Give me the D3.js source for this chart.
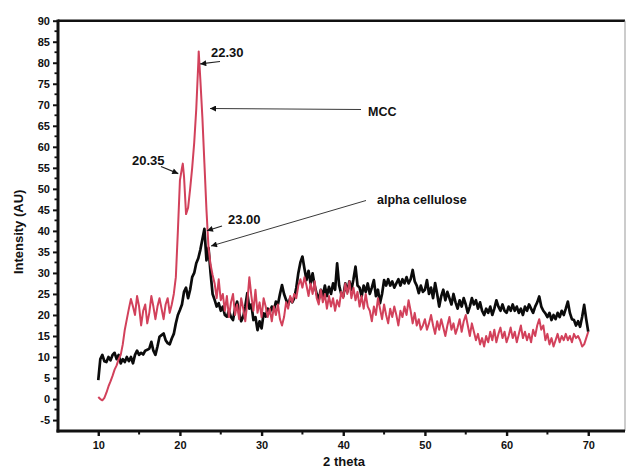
<!DOCTYPE html>
<html>
<head>
<meta charset="utf-8">
<script src="https://cdn.jsdelivr.net/npm/d3@7"></script>
<style>
  html, body { margin: 0; padding: 0; background: #fff; }
  svg { display: block; }
  text { font-family: "Liberation Sans", Arial, sans-serif; font-weight: bold; }
</style>
</head>
<body>
<svg id="chart" width="628" height="470"></svg>
<script>
// Diffraction scans, sampled every 0.25 degree of 2 theta from 10 to 70
const thetaStart = 10;
const thetaStep = 0.25;

// MCC intensity (AU)
const mccIntensity = [
  0.5, 0.0, -0.3, 0.3,      1.5, 3.0, 4.2, 5.5,       7.0, 8.0, 9.5, 10.5,
  13.0, 16.5, 19.0, 21.5,   23.8, 22.0, 20.0, 24.5,   22.0, 17.5, 21.0, 22.5,
  18.0, 20.5, 24.5, 22.0,   19.0, 22.0, 24.0, 21.5,   19.0, 22.5, 24.0, 20.5,
  22.5, 25.0, 29.0, 40.0,   52.0, 55.0, 53.0, 44.0,   45.5, 50.0, 55.0, 61.0,
  69.0, 80.0, 76.0, 67.0,   56.0, 45.0, 36.0, 32.0,   29.5, 27.5, 24.0, 28.5,
  23.5, 25.0, 21.0, 24.5,   19.5, 23.0, 25.0, 20.0,   22.5, 19.0, 24.0, 21.5,
  18.5, 23.0, 29.0, 24.5,   21.0, 26.0, 20.5, 23.0,   19.5, 24.0, 22.0, 19.5,
  21.5, 18.5, 22.0, 20.0,   22.5, 19.0, 17.5, 19.5,   23.0, 21.5, 24.5, 23.0,
  25.0, 24.0, 27.0, 28.5,   26.5, 29.0, 27.0, 24.5,   27.5, 25.0, 28.0, 24.0,
  22.5, 26.0, 23.0, 25.0,   21.5, 24.5, 22.0, 24.0,   21.0, 23.5, 22.0, 25.5,
  24.0, 27.5, 25.0, 28.0,   24.0, 26.5, 23.5, 25.5,   22.0, 24.5, 21.5, 25.0,
  22.0, 21.0, 18.5, 22.0,   20.0, 24.0, 21.5, 19.0,   22.5, 20.0, 18.0, 21.5,
  19.5, 22.0, 20.0, 17.5,   21.0, 19.5, 22.0, 20.0,   23.5, 21.0, 18.0, 20.5,
  17.5, 19.0, 16.5, 17.5,   19.0, 16.5, 18.0, 20.0,   17.5, 15.5, 18.5, 16.5,
  19.0, 17.0, 15.0, 17.5,   19.5, 16.5, 18.0, 15.5,   17.0, 19.0, 16.0, 18.5,
  20.0, 17.5, 15.0, 18.0,   16.0, 14.0, 15.5, 13.0,   14.5, 12.5, 15.0, 13.5,
  16.0, 14.0, 16.5, 13.5,   15.5, 17.0, 14.5, 16.0,   13.5, 15.0, 17.0, 14.5,
  16.0, 13.5, 15.5, 17.5,   14.5, 16.0, 14.0, 15.5,   13.5, 16.5, 15.0, 17.5,
  19.0, 16.5, 17.5, 14.0,   15.5, 13.0, 14.5, 12.5,   14.0, 15.5, 13.5, 15.0,
  14.0, 15.5, 14.0, 15.0,   13.5, 15.5, 14.5, 15.0,   14.0, 12.5, 13.0, 14.5,
  16.0
];

// alpha cellulose intensity (AU)
const alphaIntensity = [
  4.5, 9.5, 10.5, 9.0,      8.8, 10.0, 9.2, 10.5,     11.0, 9.5, 10.5, 8.5,
  9.5, 8.8, 10.0, 9.0,      10.0, 8.5, 10.5, 11.5,    10.5, 11.0, 10.6, 11.5,
  11.7, 12.0, 13.6, 11.5,   10.5, 12.5, 14.8, 15.2,   15.6, 14.0, 13.3, 13.0,
  14.4, 15.5, 18.0, 20.0,   21.2, 22.5, 25.5, 26.5,   24.0, 26.0, 29.0, 30.0,
  32.3, 33.5, 35.5, 38.0,   40.5, 33.0, 36.0, 30.0,   25.0, 23.6, 22.0, 22.8,
  21.0, 22.0, 20.0, 19.6,   21.0, 19.5, 18.8, 21.5,   23.2, 20.5, 18.5, 19.6,
  22.0, 25.2, 21.5, 22.5,   18.8, 19.5, 16.4, 18.5,   16.8, 20.4, 19.6, 21.5,
  20.5, 22.0, 21.0, 23.2,   22.5, 25.0, 27.1, 25.0,   23.6, 22.4, 24.0, 23.0,
  24.0, 26.5, 30.0, 32.5,   33.9, 31.0, 28.3, 30.5,   27.5, 29.9, 27.0, 25.0,
  23.6, 26.0, 24.5, 27.0,   24.5, 26.7, 25.0, 27.5,   26.0, 32.3, 27.0, 25.0,
  24.4, 27.5, 25.5, 28.0,   26.0, 28.5, 31.5, 27.0,   26.5, 24.4, 27.0, 25.5,
  27.5, 25.0, 26.5, 28.3,   24.5, 26.0, 22.8, 25.0,   28.3, 27.0, 28.5, 27.0,
  28.0, 26.5, 27.5, 28.5,   27.0, 28.5, 27.5, 29.0,   27.5, 28.5, 30.7, 28.0,
  27.0, 25.2, 27.0, 25.5,   26.0, 28.3, 25.0, 26.5,   24.0, 27.6, 25.0, 22.0,
  24.5, 26.0, 23.5, 25.5,   24.0, 22.5, 25.0, 23.0,   21.5, 23.5, 22.0, 24.0,
  22.5, 20.5, 22.0, 24.0,   22.5, 23.5, 21.5, 23.0,   21.0, 20.0, 21.5, 20.5,
  22.0, 20.0, 21.5, 23.5,   22.0, 21.0, 22.5, 21.0,   20.5, 22.0, 21.0, 22.5,
  21.0, 22.0, 20.5, 21.5,   20.0, 22.0, 21.0, 22.5,   21.5, 20.5, 22.0, 23.0,
  24.4, 22.0, 21.0, 20.4,   19.5, 20.5, 18.8, 20.0,   19.0, 20.5, 19.5, 21.0,
  20.0, 21.5, 23.2, 20.5,   19.0, 18.8, 17.5, 18.5,   17.2, 19.5, 22.4, 19.0,
  16.0
];

// Labelled reflections (2 theta, intensity)
const mccPeaks = [
  { theta: 20.35, intensity: 56.0 },
  { theta: 22.30, intensity: 82.7 }
];
const alphaPeaks = [
  { theta: 23.00, intensity: 40.5 }
];

const xTicks = [10, 20, 30, 40, 50, 60, 70];
const yTicks = [-5, 0, 5, 10, 15, 20, 25, 30, 35, 40, 45, 50, 55, 60, 65, 70, 75, 80, 85, 90];

const seriesNames = { mcc: "MCC", alpha: "alpha cellulose" };
const xTitle = "2 theta";
const yTitle = "Intensity (AU)";

// ---------------------------------------------------------------
function toPoints(values, peaks) {
  const pts = values.map((v, i) => ({ theta: thetaStart + i * thetaStep, intensity: v }));
  peaks.forEach(p => {
    const same = pts.find(d => Math.abs(d.theta - p.theta) < 1e-9);
    if (same) same.intensity = p.intensity;
    else pts.push({ theta: p.theta, intensity: p.intensity });
  });
  return pts.sort((a, b) => a.theta - b.theta);
}
const mccPts = toPoints(mccIntensity, mccPeaks);
const alphaPts = toPoints(alphaIntensity, alphaPeaks);

const svg = d3.select("#chart");
const plotL = 58, plotR = 625, plotT = 20.7, plotB = 431;

const x = d3.scaleLinear().domain([5.07, 74.5]).range([plotL, plotR]);
const y = d3.scaleLinear().domain([-7.6, 90]).range([plotB, plotT]);

const red = "#d2415b";
const plainInt = d => String(d);   // hyphen-minus, as on the printed axis

// Frame: top and right borders
svg.append("line").attr("x1", plotL).attr("x2", plotR).attr("y1", plotT).attr("y2", plotT)
  .attr("stroke", "#111").attr("stroke-width", 2.6);
svg.append("line").attr("x1", plotR).attr("x2", plotR).attr("y1", plotT).attr("y2", plotB)
  .attr("stroke", "#999").attr("stroke-width", 1);

// Curves
const line = d3.line().x(d => x(d.theta)).y(d => y(d.intensity));
svg.append("path").datum(alphaPts).attr("d", line)
  .attr("fill", "none").attr("stroke", "#0b0b0b").attr("stroke-width", 2.7)
  .attr("stroke-linejoin", "round");
svg.append("path").datum(mccPts).attr("d", line)
  .attr("fill", "none").attr("stroke", red).attr("stroke-width", 2.0)
  .attr("stroke-linejoin", "round");

// Y axis
const yAxis = d3.axisLeft(y).tickValues(yTicks).tickSize(5).tickPadding(3).tickFormat(plainInt);
const yMinor = d3.range(-5, 90, 2.5).filter(v => v % 5 !== 0);
const gy = svg.append("g").attr("transform", `translate(${plotL},0)`);
gy.call(yAxis);
gy.select(".domain").remove();
gy.selectAll(".tick line").attr("stroke", "#111").attr("stroke-width", 2);
gy.selectAll(".tick text").attr("font-size", 11).attr("fill", "#111")
  .style("font-family", "'Liberation Sans', Arial, sans-serif").style("font-weight", "bold");
gy.selectAll(".minor").data(yMinor).enter().append("line")
  .attr("x1", -3.5).attr("x2", 0).attr("y1", d => y(d)).attr("y2", d => y(d))
  .attr("stroke", "#111").attr("stroke-width", 1.8);
svg.append("line").attr("x1", plotL).attr("x2", plotL).attr("y1", plotT - 1.3).attr("y2", plotB + 1.5)
  .attr("stroke", "#111").attr("stroke-width", 3);

// X axis
const xAxis = d3.axisBottom(x).tickValues(xTicks).tickSize(5).tickPadding(5).tickFormat(plainInt);
const xMinor = [15, 25, 35, 45, 55, 65];
const gx = svg.append("g").attr("transform", `translate(0,${plotB})`);
gx.call(xAxis);
gx.select(".domain").remove();
gx.selectAll(".tick line").attr("stroke", "#111").attr("stroke-width", 2.4);
gx.selectAll(".tick text").attr("font-size", 11).attr("fill", "#111")
  .style("font-family", "'Liberation Sans', Arial, sans-serif").style("font-weight", "bold");
gx.selectAll(".minor").data(xMinor).enter().append("line")
  .attr("x1", d => x(d)).attr("x2", d => x(d)).attr("y1", 0).attr("y2", 3.5)
  .attr("stroke", "#111").attr("stroke-width", 2);
svg.append("line").attr("x1", plotL - 1.5).attr("x2", plotR).attr("y1", plotB).attr("y2", plotB)
  .attr("stroke", "#111").attr("stroke-width", 3);

// Axis titles
svg.append("text").attr("x", x(40.1)).attr("y", 466).attr("text-anchor", "middle")
  .attr("font-size", 13).attr("fill", "#111").text(xTitle);
svg.append("text").attr("transform", `translate(23,${(plotT + plotB) / 2 + 6}) rotate(-90)`)
  .attr("text-anchor", "middle").attr("font-size", 13).attr("fill", "#111").text(yTitle);

// Annotations with arrows
svg.append("defs").append("marker")
  .attr("id", "head").attr("viewBox", "0 0 10 10").attr("refX", 10).attr("refY", 5)
  .attr("markerWidth", 9).attr("markerHeight", 6).attr("markerUnits", "userSpaceOnUse")
  .attr("orient", "auto")
  .append("path").attr("d", "M0,0 L10,5 L0,10 Z").attr("fill", "#111");

function arrow(x1, y1, x2, y2, w) {
  svg.append("line").attr("x1", x1).attr("y1", y1).attr("x2", x2).attr("y2", y2)
    .attr("stroke", "#222").attr("stroke-width", w).attr("marker-end", "url(#head)");
}
function label(tx, ty, str, size) {
  svg.append("text").attr("x", tx).attr("y", ty).attr("font-size", size).attr("fill", "#111").text(str);
}

const p2230 = mccPeaks[1], p2035 = mccPeaks[0], p2300 = alphaPeaks[0];

// 22.30 peak
label(211, 57, p2230.theta.toFixed(2), 13);
arrow(220, 61.5, x(p2230.theta) + 1.5, y(p2230.intensity) + 12.5, 1.2);
// 20.35 peak
label(132, 165, p2035.theta.toFixed(2), 13);
arrow(161, 166.5, x(p2035.theta) - 4.5, y(p2035.intensity) + 10, 1.2);
// 23.00 peak
label(228, 224, p2300.theta.toFixed(2), 13);
arrow(222, 226, x(p2300.theta) + 2.5, y(p2300.intensity) + 2, 1.2);
// series labels
label(368, 116, seriesNames.mcc, 12.5);
arrow(361, 109.5, 210, 108.5, 0.9);
label(377, 204, seriesNames.alpha, 12.5);
arrow(366, 200.5, 211, 246, 0.9);
</script>
</body>
</html>
